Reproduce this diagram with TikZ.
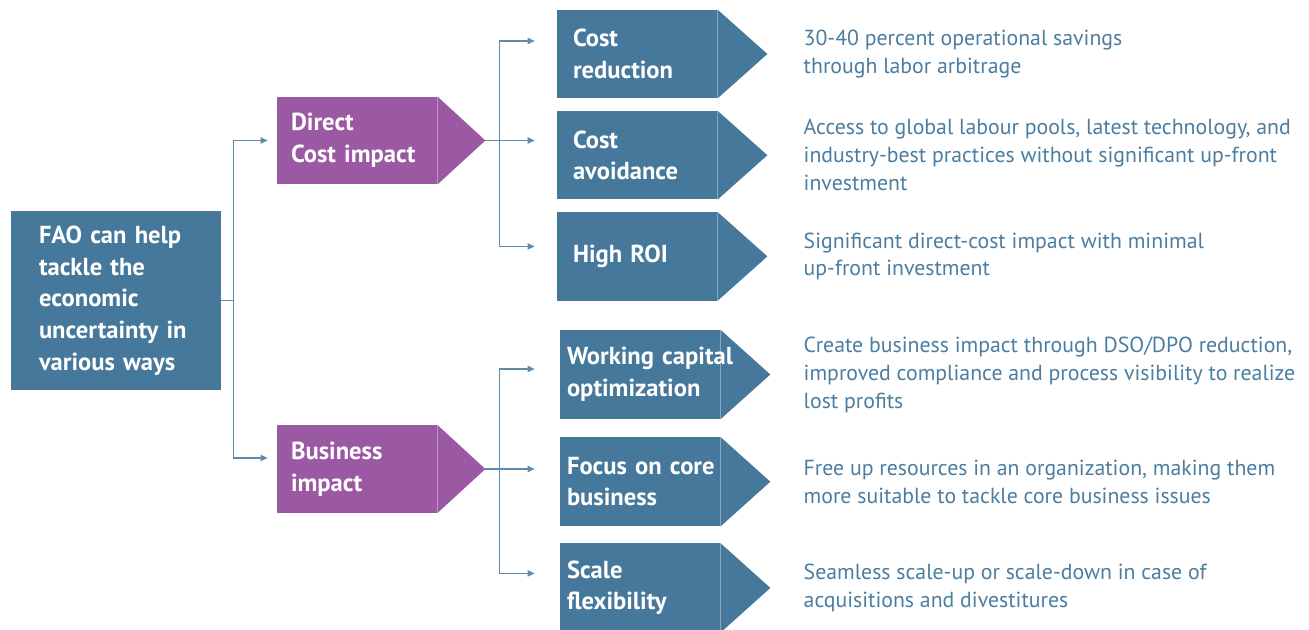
\documentclass[tikz,border=0pt]{standalone}
\usepackage{fontspec}
\setmainfont{PT Sans}
\usetikzlibrary{arrows.meta,positioning,calc,backgrounds}

\definecolor{faoblue}{HTML}{45789A}
\definecolor{faopurple}{HTML}{9B59A4}
\definecolor{notetext}{HTML}{4B7DA0}

\begin{document}
\begin{tikzpicture}[
  link/.style={-{Triangle[length=4pt,width=3.6pt]}, draw=faoblue!85, line width=0.7pt},
  boxfont/.style={font=\bfseries\fontsize{14}{18}\selectfont},
  rootbox/.style={rectangle, fill=faoblue, text=white, boxfont, align=left,
    text width=3.08cm, inner xsep=0.56cm, minimum height=3.58cm},
  catbox/.style={rectangle, fill=faopurple, text=white, boxfont, align=left,
    text width=2.64cm, inner xsep=0.28cm, minimum height=1.75cm},
  leafbox/.style={rectangle, fill=faoblue, text=white, boxfont, align=left,
    text width=2.56cm, inner xsep=0.32cm, minimum height=1.77cm},
  bizleaf/.style={leafbox, inner xsep=0.14cm, text width=2.92cm, minimum height=1.78cm},
  note/.style={anchor=west, text=notetext, align=left, inner sep=0pt,
    font=\fontsize{12.4}{15.9}\selectfont}
]
\useasboundingbox (0,0) rectangle (26.18,-12.58);

% --- root and the two kinds of impact ---
\node[rootbox]  (root)   at (2.32,-6.01) {FAO can help\\tackle the\\economic\\uncertainty in\\various ways};
\node[catbox]   (direct) at (7.14,-2.81) {Direct\\Cost impact};
\node[catbox]   (biz)    at (7.14,-9.38) {Business\\impact};

% --- direct cost leaves ---
\node[leafbox] (costred)   at (12.74,-1.08)         {Cost\\reduction};
\node[leafbox,below=0.24cm of costred]   (costavoid) {Cost\\avoidance};
\node[leafbox,below=0.24cm of costavoid] (roi)       {High ROI};

% --- business leaves (first lines run past the box edge) ---
\node[bizleaf] (working) at (12.8,-7.49)          {\mbox{Working capital}\\optimization};
\node[bizleaf,below=0.35cm of working] (focus)   {\mbox{Focus on core}\\business};
\node[bizleaf,below=0.33cm of focus]   (scale)   {Scale\\flexibility};

% --- arrow points of the boxes, kept under the labels ---
\begin{scope}[on background layer]
  \foreach \n in {direct,biz}
    \fill[faopurple] (\n.north east) -- ($(\n.east)+(0.96,0)$) -- (\n.south east) -- cycle;
  \foreach \n in {costred,costavoid,roi,working,focus,scale}
    \fill[faoblue] (\n.north east) -- ($(\n.east)+(1,0)$) -- (\n.south east) -- cycle;
\end{scope}

% --- notes ---
\node[note,right=1.72cm of costred]   (n1) {30-40 percent operational savings\\through labor arbitrage};
\node[note,right=1.72cm of costavoid] (n2) {Access to global labour pools, latest technology, and\\industry-best practices without significant up-front\\investment};
\node[note,right=1.72cm of roi]       (n3) {Significant direct-cost impact with minimal\\up-front investment};
\node[note,right=1.66cm of working]   (n4) {Create business impact through DSO/DPO reduction,\\improved compliance and process visibility to realize\\lost profits};
\node[note,right=1.66cm of focus]     (n5) {Free up resources in an organization, making them\\more suitable to tackle core business issues};
\node[note,right=1.66cm of scale]     (n6) {Seamless scale-up or scale-down in case of\\acquisitions and divestitures};

% --- connectors ---
\coordinate (dtip)  at ($(direct.east)+(0.96,0)$);
\coordinate (btip)  at ($(biz.east)+(0.96,0)$);
\coordinate (dfork) at ($(dtip)+(0.28,0)$);
\coordinate (bfork) at ($(btip)+(0.28,0)$);

\draw[link,shorten >=0.18cm] (root.east) -- ++(0.24,0) |- (direct.west);
\draw[link,shorten >=0.18cm] (root.east) -- ++(0.24,0) |- ([yshift=0.22cm]biz.west);

\draw[link,shorten >=0.44cm] (dtip) -- (dtip -| costavoid.west);
\draw[link,shorten >=0.44cm] (dfork) |- ([yshift=0.26cm]costred.west);
\draw[link,shorten >=0.44cm] (dfork) |- ([yshift=0.2cm]roi.west);

\draw[link,shorten >=0.5cm] (btip) -- (btip -| focus.west);
\draw[link,shorten >=0.5cm] (bfork) |- ([yshift=0.11cm]working.west);
\draw[link,shorten >=0.5cm] (bfork) |- ([yshift=0.29cm]scale.west);
\end{tikzpicture}
\end{document}
